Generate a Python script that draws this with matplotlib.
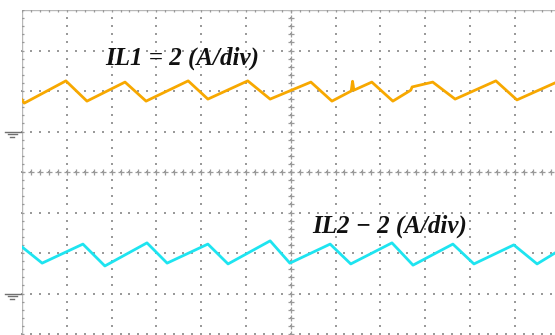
import matplotlib
matplotlib.use('Agg')
import matplotlib.pyplot as plt
import numpy as np

# screen is in divisions: x 0..11.9 (cut at right edge), y 0..8
# IL1 trace vertices (orange)
il1_t = [0.00, 0.05, 0.98, 1.45, 2.30, 2.77, 3.71, 4.15, 5.04, 5.54,
         6.45, 6.92, 7.35, 7.38, 7.41, 7.81, 8.28, 8.68, 8.71, 9.17,
         9.67, 10.58, 11.05, 11.90]
il1_v = [5.78, 5.70, 6.25, 5.75, 6.22, 5.75, 6.25, 5.80, 6.25, 5.80,
         6.22, 5.75, 6.00, 6.24, 6.02, 6.22, 5.75, 6.02, 6.10, 6.22,
         5.80, 6.25, 5.78, 6.20]

# IL2 trace vertices (cyan)
il2_t = [0.00, 0.45, 1.36, 1.85, 2.79, 3.24, 4.15, 4.60, 5.54, 5.98,
         6.88, 7.34, 8.26, 8.73, 9.62, 10.09, 10.98, 11.50, 11.90]
il2_v = [2.15, 1.75, 2.22, 1.68, 2.25, 1.75, 2.22, 1.73, 2.30, 1.75,
         2.22, 1.73, 2.25, 1.70, 2.22, 1.73, 2.20, 1.73, 2.00]

labels = ['IL1 = 2 (A/div)', 'IL2 \u2212 2 (A/div)']
label_pos = [(1.85, 6.81), (6.47, 2.67)]
gnd_levels = [5, 1]

x_max, y_max = 11.9, 8
grid_col = '#9a9a9a'

fig = plt.figure(figsize=(5.55, 3.35), dpi=100)
ax = fig.add_axes([22 / 555, 1 / 335, (555 - 22) / 555, 324 / 335])
ax.set_xlim(0, x_max)
ax.set_ylim(0, y_max)
ax.set_axis_off()

# dotted graticule: dots every 1/5 div along each major line
minor_y = np.arange(0, y_max + 0.01, 0.2)
minor_x = np.arange(0, x_max + 0.01, 0.2)
for gx in range(1, 12):
    ax.scatter(np.full(minor_y.size, gx), minor_y, s=1.8, c=grid_col,
               marker='s', linewidths=0, zorder=1)
for gy in range(0, 8):
    ax.scatter(minor_x, np.full(minor_x.size, gy), s=1.8, c=grid_col,
               marker='s', linewidths=0, zorder=1, clip_on=False)

# centre crosshair with small tick crosses
ax.scatter(np.full(minor_y.size, 6), minor_y, s=14, c=grid_col,
           marker='+', linewidths=0.9, zorder=1)
ax.scatter(minor_x, np.full(minor_x.size, 4), s=14, c=grid_col,
           marker='+', linewidths=0.9, zorder=1)

# border (left and top) with ticks
ax.plot([0, 0], [0, y_max], color='#b8b8b8', lw=1.0, zorder=1)
ax.plot([0, x_max], [y_max, y_max], color='#b8b8b8', lw=1.0, zorder=1)
ax.scatter(np.zeros(minor_y.size), minor_y, s=8, c=grid_col,
           marker='_', linewidths=0.9, zorder=1)
ax.scatter(minor_x, np.full(minor_x.size, y_max), s=8, c=grid_col,
           marker='|', linewidths=0.9, zorder=1)

# traces
ax.plot(il1_t, il1_v, color='#f7a800', lw=2.0, zorder=3)
ax.plot(il2_t, il2_v, color='#1ee4f0', lw=2.0, zorder=3)

# ground markers left of the screen
for g in gnd_levels:
    for dy, x0, x1 in [(0.0, -0.38, -0.02), (-0.07, -0.32, -0.12), (-0.14, -0.27, -0.17)]:
        ax.plot([x0, x1], [g + dy, g + dy], color='#707070', lw=1.0, clip_on=False)

for txt, (tx, ty) in zip(labels, label_pos):
    ax.text(tx, ty, txt, family=['Liberation Serif', 'DejaVu Serif'],
            fontweight='bold', fontstyle='italic', fontsize=18,
            ha='left', va='center', color='#111111', zorder=4)

fig.savefig('out.png', dpi=100)
